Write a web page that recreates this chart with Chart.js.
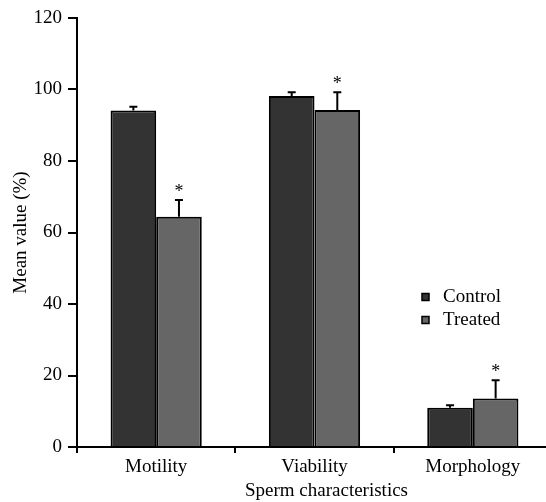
<!DOCTYPE html>
<html>
<head>
<meta charset="utf-8">
<script src="https://cdn.jsdelivr.net/npm/chart.js@4/dist/chart.umd.min.js"></script>
<style>
  html, body { margin: 0; padding: 0; background: #fff; overflow: hidden; }
  canvas { display: block; }
</style>
</head>
<body>
<canvas id="spermChart" width="560" height="502" style="width:560px;height:502px"></canvas>
<script>
// Data
const categories = ['Motility', 'Viability', 'Morphology'];
const controlValues = [94.1, 98.2, 11.0];
const controlErrors = [1.1, 1.0, 0.7];
const treatedValues = [64.4, 94.3, 13.6];
const treatedErrors = [4.7, 4.9, 5.1];
const significant = [true, true, true]; // asterisk over treated bar
const yTicks = [0, 20, 40, 60, 80, 100, 120];

const FONT = '"Liberation Serif", "Times New Roman", serif';

// error bars (upper half only) and asterisks
const errorBarPlugin = {
  id: 'errorBars',
  afterDatasetsDraw(chart) {
    const ctx = chart.ctx;
    const y = chart.scales.y;
    ctx.save();
    ctx.strokeStyle = '#000';
    ctx.lineWidth = 2;
    chart.data.datasets.forEach((ds, di) => {
      const meta = chart.getDatasetMeta(di);
      meta.data.forEach((bar, i) => {
        const top = y.getPixelForValue(ds.data[i] + ds.errors[i]);
        const base = y.getPixelForValue(ds.data[i]);
        ctx.beginPath();
        ctx.moveTo(bar.x, base);
        ctx.lineTo(bar.x, top);
        ctx.moveTo(bar.x - 4, top);
        ctx.lineTo(bar.x + 4, top);
        ctx.stroke();
        if (ds.stars && ds.stars[i]) {
          ctx.fillStyle = '#000';
          ctx.font = '18px ' + FONT;
          ctx.textAlign = 'center';
          ctx.textBaseline = 'middle';
          ctx.fillText('*', bar.x, top - 8);
        }
      });
    });
    ctx.restore();
  }
};

// legend inside the plot + x axis title
const extrasPlugin = {
  id: 'extras',
  afterDraw(chart) {
    const ctx = chart.ctx;
    const area = chart.chartArea;
    ctx.save();
    ctx.font = '19px ' + FONT;
    ctx.textBaseline = 'middle';
    ctx.textAlign = 'left';
    chart.data.datasets.forEach((ds, i) => {
      const ly = 297 + i * 23;
      ctx.fillStyle = ds.backgroundColor;
      ctx.fillRect(422, ly - 3.5, 7, 7);
      ctx.strokeStyle = '#000';
      ctx.lineWidth = 1.5;
      ctx.strokeRect(422, ly - 3.5, 7, 7);
      ctx.fillStyle = '#000';
      ctx.fillText(ds.label, 443, ly);
    });
    ctx.textAlign = 'center';
    ctx.fillText('Sperm characteristics', (area.left + area.right) / 2 + 12, 491);
    ctx.restore();
  }
};

new Chart(document.getElementById('spermChart'), {
  type: 'bar',
  data: {
    labels: categories,
    datasets: [
      {
        label: 'Control',
        data: controlValues,
        errors: controlErrors,
        backgroundColor: '#333333',
        borderColor: '#000',
        borderWidth: 2,
        categoryPercentage: 0.576,
        barPercentage: 1
      },
      {
        label: 'Treated',
        data: treatedValues,
        errors: treatedErrors,
        stars: significant,
        backgroundColor: '#666666',
        borderColor: '#000',
        borderWidth: 2,
        categoryPercentage: 0.576,
        barPercentage: 1
      }
    ]
  },
  options: {
    responsive: false,
    animation: false,
    layout: { padding: { left: 0, top: 18, right: 8, bottom: 0 } },
    plugins: {
      legend: { display: false },
      tooltip: { enabled: false }
    },
    scales: {
      x: {
        offset: true,
        grid: {
          offset: true,
          drawOnChartArea: false,
          drawTicks: true,
          tickLength: 6,
          color: '#000',
          lineWidth: 2
        },
        border: { display: true, color: '#000', width: 2 },
        ticks: { color: '#000', font: { family: FONT, size: 19 }, padding: 3, maxRotation: 0 },
        afterFit(scale) { scale.height = 55; }
      },
      y: {
        min: 0,
        max: 120,
        afterBuildTicks(scale) { scale.ticks = yTicks.map(v => ({ value: v })); },
        grid: {
          drawOnChartArea: false,
          drawTicks: true,
          tickLength: 9,
          color: '#000',
          lineWidth: 2
        },
        border: { display: true, color: '#000', width: 2 },
        ticks: { color: '#000', font: { family: FONT, size: 19 }, padding: 6 },
        title: {
          display: true,
          text: 'Mean value (%)',
          color: '#000',
          font: { family: FONT, size: 19 },
          padding: { top: 10, bottom: 0 }
        },
        afterFit(scale) { scale.width = 77; }
      }
    }
  },
  plugins: [errorBarPlugin, extrasPlugin]
});
</script>
</body>
</html>
